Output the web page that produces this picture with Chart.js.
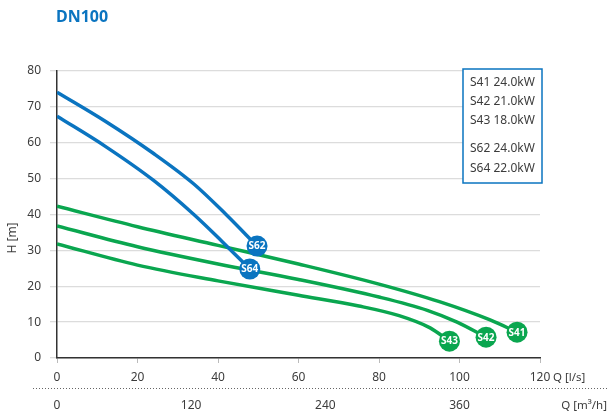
<!DOCTYPE html>
<html>
<head>
<meta charset="utf-8">
<script src="https://cdn.jsdelivr.net/npm/chart.js@4"></script>
<style>
  html, body { margin: 0; padding: 0; background: #fff; }
  #wrap { width: 608px; height: 416px; }
</style>
</head>
<body>
<div id="wrap"><canvas id="pumpChart" width="608" height="416"></canvas></div>
<script>
// Pump curves DN100, Q in l/s, H in m
const q62 = [0, 12, 24, 34, 42, 49.7];
const h62 = [74.1, 66, 57, 48.5, 40, 31.2];
const q64 = [0, 12, 24, 34, 41, 47.9];
const h64 = [67.4, 59, 49.5, 40, 32.5, 24.8];
const q41 = [0, 20, 40, 60, 80, 95, 107.6, 114.3];
const h41 = [42.3, 36.6, 31.4, 26.2, 20.6, 15.7, 10.6, 7.2];
const q42 = [0, 20, 40, 60, 80, 92, 99.4, 106.6];
const h42 = [36.8, 31, 26.2, 21.9, 17, 13.3, 10, 5.8];
const q43 = [0, 20, 40, 60, 75, 85, 92.7, 97.5];
const h43 = [31.8, 25.9, 21.5, 17.5, 14.5, 11.8, 8.4, 4.7];

const legendLines = ['S41 24.0kW', 'S42 21.0kW', 'S43 18.0kW', '', 'S62 24.0kW', 'S64 22.0kW'];
const m3hTicks = [0, 120, 240, 360];

const BLUE = '#0a74c0';
const GREEN = '#0aa64f';
const TEXT = '#3c3c3c';
const FONT = '"Noto Sans", sans-serif';

function pts(q, h) { return q.map((v, i) => ({ x: v, y: h[i] })); }

function curve(name, q, h, color) {
  const r = q.map((_, i) => i === q.length - 1 ? 10.5 : 0);
  return {
    label: name,
    data: pts(q, h),
    borderColor: color,
    backgroundColor: color,
    borderWidth: 3.5,
    cubicInterpolationMode: 'monotone',
    pointRadius: r,
    pointHoverRadius: r,
    pointBorderWidth: 0,
    pointBackgroundColor: color,
    fill: false
  };
}

const extras = {
  id: 'extras',
  afterDatasetsDraw(chart) {
    const c = chart.ctx;
    // marker labels
    chart.data.datasets.forEach((ds, i) => {
      const meta = chart.getDatasetMeta(i);
      const p = meta.data[meta.data.length - 1];
      c.save();
      c.fillStyle = '#fff';
      c.font = 'bold 10px ' + FONT;
      c.textAlign = 'center';
      c.textBaseline = 'middle';
      c.fillText(ds.label, p.x, p.y + 0.5);
      c.restore();
    });
  },
  afterDraw(chart) {
    const c = chart.ctx;
    const xs = chart.scales.x;
    c.save();
    // title
    c.fillStyle = BLUE;
    c.font = 'bold 16px ' + FONT;
    c.textBaseline = 'middle';
    c.textAlign = 'left';
    c.fillText('DN100', 56, 17);

    // legend box
    c.fillStyle = '#fff';
    c.fillRect(463, 69, 79, 114);
    c.strokeStyle = BLUE;
    c.lineWidth = 1.5;
    c.strokeRect(463, 69, 79, 114);
    c.fillStyle = TEXT;
    c.font = '12px ' + FONT;
    const ly = [83, 102, 121, 135, 149, 169];
    legendLines.forEach((t, i) => { if (t) c.fillText(t, 470, ly[i]); });

    // axis units
    c.font = '11.5px ' + FONT;
    c.fillText('Q [l/s]', 553, 378);
    c.textAlign = 'right';
    c.fillText('Q [m\u00b3/h]', 607, 406);

    // y title
    c.save();
    c.translate(13, 238);
    c.rotate(-Math.PI / 2);
    c.textAlign = 'center';
    c.font = '12px ' + FONT;
    c.fillText('H [m]', 0, 0);
    c.restore();

    // dotted separator
    c.strokeStyle = '#666';
    c.lineWidth = 1;
    c.setLineDash([1, 2]);
    c.beginPath();
    c.moveTo(33, 388.5);
    c.lineTo(608, 388.5);
    c.stroke();
    c.setLineDash([]);

    // m3/h ticks through the l/s scale
    c.textAlign = 'center';
    c.font = '12px ' + FONT;
    m3hTicks.forEach(v => {
      c.fillText(String(v), xs.getPixelForValue(v / 3.6), 406);
    });
    c.restore();
  }
};

new Chart(document.getElementById('pumpChart'), {
  type: 'line',
  data: {
    datasets: [
      curve('S62', q62, h62, BLUE),
      curve('S64', q64, h64, BLUE),
      curve('S41', q41, h41, GREEN),
      curve('S42', q42, h42, GREEN),
      curve('S43', q43, h43, GREEN)
    ]
  },
  options: {
    responsive: false,
    animation: false,
    layout: { padding: { top: 71, right: 68, left: 0, bottom: 0 } },
    plugins: { legend: { display: false }, tooltip: { enabled: false } },
    scales: {
      x: {
        type: 'linear',
        min: 0, max: 120,
        ticks: { stepSize: 20, color: TEXT, font: { family: FONT, size: 12 }, padding: 7, maxRotation: 0 },
        grid: { drawOnChartArea: false, tickLength: 5, color: '#bbb' },
        border: { color: '#333', width: 1.5 },
        afterFit(s) { s.height = 58; }
      },
      y: {
        min: 0, max: 80,
        ticks: { stepSize: 10, color: TEXT, font: { family: FONT, size: 12 }, padding: 9 },
        grid: { color: '#dcdcdc', tickLength: 7, lineWidth: 1.3 },
        border: { color: '#333', width: 1.5 },
        afterFit(s) { s.width = 57; }
      }
    }
  },
  plugins: [extras]
});
</script>
</body>
</html>
